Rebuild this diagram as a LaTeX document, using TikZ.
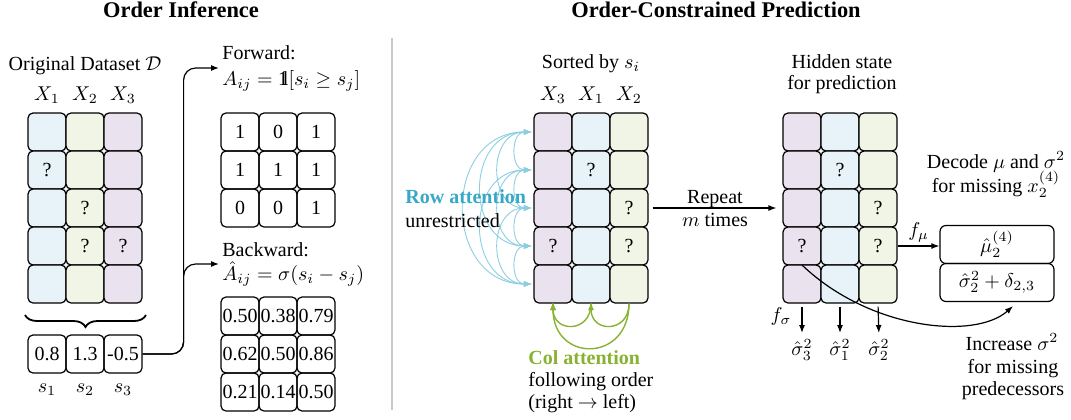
\documentclass[tikz,border=0pt]{standalone}
\usepackage{fontspec}
\setmainfont{Liberation Serif}
\usepackage{amsmath}
\usetikzlibrary{arrows.meta,decorations.pathreplacing,calc}
\newcommand{\indone}{\mathrm{1\kern-0.26em l}}
\definecolor{cblue}{RGB}{231,243,249}
\definecolor{cgreen}{RGB}{241,245,230}
\definecolor{cpurple}{RGB}{234,226,239}
\definecolor{rowc}{RGB}{56,168,200}
\definecolor{rowl}{RGB}{140,206,224}
\definecolor{colc}{RGB}{136,178,50}
\definecolor{divc}{RGB}{200,200,200}
\begin{document}
\begin{tikzpicture}[x=0.5pt,y=-0.5pt,
  cellb/.style={draw, line width=0.6pt, rounded corners=2.5pt, minimum width=19pt, minimum height=19pt, inner sep=0pt},
  outbox/.style={draw, line width=0.6pt, rounded corners=3pt, minimum width=57pt, minimum height=19pt, inner sep=0pt},
  qm/.style={inner sep=0pt},
  txt/.style={anchor=base, inner sep=0pt},
  txtw/.style={anchor=base west, inner sep=0pt},
  ttl/.style={anchor=base, inner sep=0pt, font=\bfseries\fontsize{11.2}{13}\selectfont},
  arr/.style={-{Latex[length=4pt,width=3pt]}, line width=0.6pt},
  rowarr/.style={{Latex[length=4pt,width=3pt]}-{Latex[length=4pt,width=3pt]}, line width=0.45pt, draw=rowl, shorten <=0.8pt, shorten >=0.8pt},
  colarr/.style={-{Latex[length=4pt,width=3pt]}, line width=0.7pt, draw=colc, shorten >=-0.8pt},
  brc/.style={decorate, decoration={brace, mirror, amplitude=6pt}, line width=0.9pt},
  divider/.style={draw=divc, line width=0.6pt}
]
\useasboundingbox (0,0) rectangle (1071,419);

% titles
\node[ttl] (t1) at (181,17) {Order Inference};
\node[ttl] (t2) at (716,17) {Order-Constrained Prediction};
\draw[divider] (392,38) -- (392,410);

% ---------- left: original dataset ----------
\node[txt] (od) at (85,70) {Original Dataset $\mathcal{D}$};
\node[txt] (lx1) at (47,100) {$X_1$};
\node[txt] (lx2) at (85,100) {$X_2$};
\node[txt] (lx3) at (123,100) {$X_3$};
\foreach \c/\col in {1/cblue,2/cgreen,3/cpurple}
  \foreach \r in {1,...,5}
    \node[cellb, fill=\col] (L-\r-\c) at ({9+38*\c},{94+38*\r}) {};
\foreach \p in {2-1,3-2,4-2,4-3} \node[qm] (qL\p) at (L-\p) {?};

\draw[brc] (25,315) -- (146,315);
\node[cellb] (S-1) at (47,354) {0.8};
\node[cellb] (S-2) at (85,354) {1.3};
\node[cellb] (S-3) at (123,354) {-0.5};
\node[txt] (ls1) at (47,392) {$s_1$};
\node[txt] (ls2) at (85,392) {$s_2$};
\node[txt] (ls3) at (123,392) {$s_3$};

% forward / backward
\node[anchor=west, align=left, inner sep=0pt] (fwd) at (222,68) {Forward:\\[1pt]$A_{ij} = \indone[s_i \geq s_j]$};
\node[anchor=west, align=left, inner sep=0pt] (bwd) at (222,264) {Backward:\\$\hat{A}_{ij} = \sigma(s_i - s_j)$};
\foreach \r/\a/\b/\d in {1/1/0/1,2/1/1/1,3/0/0/1} {
  \node[cellb] (F-\r-1) at (240,{94+38*\r}) {\a};
  \node[cellb] (F-\r-2) at (278,{94+38*\r}) {\b};
  \node[cellb] (F-\r-3) at (316,{94+38*\r}) {\d};
}
\foreach \r/\a/\b/\d in {1/0.50/0.38/0.79,2/0.62/0.50/0.86,3/0.21/0.14/0.50} {
  \node[cellb] (B-\r-1) at (240,{278+38*\r}) {\a};
  \node[cellb] (B-\r-2) at (278,{278+38*\r}) {\b};
  \node[cellb] (B-\r-3) at (316,{278+38*\r}) {\d};
}
\draw[arr, rounded corners=6pt, shorten >=1.5pt] (S-3.east) -- ++(41,0) |- (fwd.west);
\draw[arr, rounded corners=6pt, shorten >=1.5pt] (S-3.east) -- ++(41,0) |- (bwd.west);

% ---------- middle: sorted ----------
\node[txt] (so) at (591,68) {Sorted by $s_i$};
\node[txt] (mx3) at (553,100) {$X_3$};
\node[txt] (mx1) at (591,100) {$X_1$};
\node[txt] (mx2) at (629,100) {$X_2$};
\foreach \c/\col in {1/cpurple,2/cblue,3/cgreen}
  \foreach \r in {1,...,5}
    \node[cellb, fill=\col] (M-\r-\c) at ({515+38*\c},{94+38*\r}) {};
\foreach \p in {2-2,3-3,4-1,4-3} \node[qm] (qM\p) at (M-\p) {?};

% row attention arcs
\foreach \i in {1,...,4} {
  \pgfmathtruncatemacro\ni{\i+1}
  \foreach \j in {\ni,...,5}
    \draw[rowarr] (M-\i-1.west) to[out=180,in=180,looseness=1.55] (M-\j-1.west);
}
\node[txtw, font=\bfseries, text=rowc] (ra) at (405,203) {Row attention};
\node[txtw] (ra2) at (405,227) {unrestricted};

% col attention arcs
\draw[colarr] (M-5-3.south) to[out=-90,in=-90,looseness=2] (M-5-2.south);
\draw[colarr] (M-5-2.south) to[out=-90,in=-90,looseness=2] (M-5-1.south);
\draw[colarr] (M-5-3.south) to[out=-90,in=-90,looseness=2] (M-5-1.south);
\node[txtw, font=\bfseries, text=colc] (ca) at (528,364) {Col attention};
\node[txtw] (ca2) at (528,386) {following order};
\node[txtw] (ca3) at (528,408) {(right $\rightarrow$ left)};

% ---------- right: hidden state ----------
\node[txt] (hs1) at (842,68) {Hidden state};
\node[txt] (hs2) at (842,89) {for prediction};
\foreach \c/\col in {1/cpurple,2/cblue,3/cgreen}
  \foreach \r in {1,...,5}
    \node[cellb, fill=\col] (H-\r-\c) at ({764+38*\c},{94+38*\r}) {};
\foreach \p in {2-2,3-3,4-1,4-3} \node[qm] (qH\p) at (H-\p) {?};

% repeat arrow
\draw[arr, shorten <=2pt, shorten >=3pt] (M-3-3.east) -- (H-3-1.west);
\node[txt] (rp1) at (715,203) {Repeat};
\node[txt] (rp2) at (715,226) {$m$ times};

\node[txt] (dc1) at (996,168) {Decode $\mu$ and $\sigma^2$};
\node[txt] (dc2) at (996,192) {for missing $x_2^{(4)}$};

\node[outbox] (mu) at (997,244.5) {$\hat{\mu}_2^{(4)}$};
\node[outbox] (sig) at (997,282.5) {$\hat{\sigma}_2^2 + \delta_{2,3}$};
\draw[arr] (H-4-3.east) -- (H-4-3.east -| mu.west) node[midway, above, inner sep=1.5pt] (fmu) {$f_\mu$};

\node[anchor=north, inner sep=0pt] (sg1) at (802,339) {$\hat{\sigma}_3^2$};
\node[anchor=north, inner sep=0pt] (sg2) at (840,339) {$\hat{\sigma}_1^2$};
\node[anchor=north, inner sep=0pt] (sg3) at (879,339) {$\hat{\sigma}_2^2$};
\foreach \c in {1,2,3}
  \draw[arr, shorten <=1.5pt, shorten >=3pt] (H-5-\c.south) -- (sg\c.north);
\node[inner sep=0pt] (fs) at (781,316) {$f_\sigma$};

\draw[arr] ([yshift=-9.5pt]qH4-1.center) .. controls (870,330) and (975,340) .. ([xshift=8pt,yshift=-2pt]sig.south);
\node[txt] (in1) at (1012,350) {Increase $\sigma^2$};
\node[txt] (in2) at (1013,373) {for missing};
\node[txt] (in3) at (1013,395) {predecessors};
\end{tikzpicture}
\end{document}
